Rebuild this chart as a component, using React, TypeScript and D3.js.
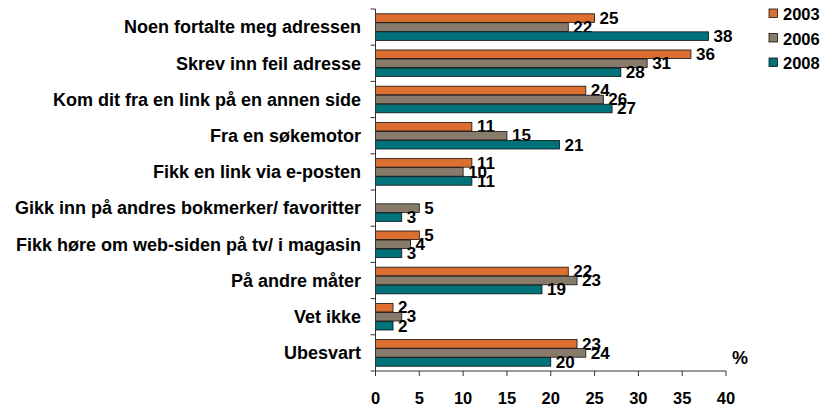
import { scaleBand, scaleLinear } from 'd3';

const categories = [
  'Noen fortalte meg adressen',
  'Skrev inn feil adresse',
  'Kom dit fra en link på en annen side',
  'Fra en søkemotor',
  'Fikk en link via e-posten',
  'Gikk inn på andres bokmerker/ favoritter',
  'Fikk høre om web-siden på tv/ i magasin',
  'På andre måter',
  'Vet ikke',
  'Ubesvart',
];
const seriesNames = ['2003', '2006', '2008'];
const values2003: (number | null)[] = [25, 36, 24, 11, 11, null, 5, 22, 2, 23];
const values2006: (number | null)[] = [22, 31, 26, 15, 10, 5, 4, 23, 3, 24];
const values2008: (number | null)[] = [38, 28, 27, 21, 11, 3, 3, 19, 2, 20];
const xTicks = [0, 5, 10, 15, 20, 25, 30, 35, 40];
const colors = ['#DC6E2F', '#887B6C', '#00727A'];

const W = 829;
const H = 410;
const left = 375.5;
const right = 726;
const top = 9;
const bottom = 371;
const font = 'Arial, "Liberation Sans", sans-serif';

const App = () => {
  const series = [values2003, values2006, values2008];
  const x = scaleLinear().domain([0, 40]).range([left, right]);
  const y = scaleBand<string>().domain(categories).range([top, bottom]);
  const inner = scaleBand<string>()
    .domain(seriesNames)
    .range([0, y.bandwidth()])
    .paddingOuter(0.53)
    .paddingInner(0.05);

  return (
    <svg
      width={W}
      height={H}
      style={{ position: 'absolute', left: 0, top: 0, background: '#fff' }}
      fontFamily={font}
    >
      {categories.map((c, ci) => (
        <g key={c}>
          <text
            x={361}
            y={y(c)! + y.bandwidth() / 2}
            dy="0.35em"
            textAnchor="end"
            fontSize={18}
            fontWeight="bold"
          >
            {c}
          </text>
          {series.map((vals, si) => {
            const v = vals[ci];
            if (v === null) return null;
            const by = y(c)! + inner(seriesNames[si])!;
            return (
              <g key={si}>
                <rect
                  x={x(0)}
                  y={by}
                  width={x(v) - x(0)}
                  height={inner.bandwidth()}
                  fill={colors[si]}
                  stroke="#111"
                  strokeWidth={0.8}
                />
                <text
                  x={x(v) + 5}
                  y={by + inner.bandwidth() + 1.5}
                  fontSize={17}
                  fontWeight="bold"
                >
                  {v}
                </text>
              </g>
            );
          })}
        </g>
      ))}
      {/* y axis */}
      <line x1={left} x2={left} y1={top} y2={bottom} stroke="#333" />
      {[...categories.map((c) => y(c)!), bottom].map((t, i) => (
        <line key={i} x1={left - 5} x2={left} y1={t} y2={t} stroke="#333" />
      ))}
      {/* x axis */}
      <line x1={left} x2={right} y1={bottom} y2={bottom} stroke="#333" />
      {xTicks.map((t) => (
        <g key={t}>
          <line x1={x(t)} x2={x(t)} y1={bottom} y2={bottom + 5} stroke="#333" />
          <text
            x={x(t)}
            y={404}
            textAnchor="middle"
            fontSize={16.5}
            fontWeight="bold"
          >
            {t}
          </text>
        </g>
      ))}
      <text x={732} y={364} fontSize={18} fontWeight="bold">
        %
      </text>
      {/* legend */}
      {seriesNames.map((s, i) => (
        <g key={s} transform={`translate(769, ${9 + i * 24.5})`}>
          <rect width={8.5} height={8.5} fill={colors[i]} stroke="#111" strokeWidth={0.8} />
          <text x={14} y={11} fontSize={16.5} fontWeight="bold">
            {s}
          </text>
        </g>
      ))}
    </svg>
  );
};

export default App;
